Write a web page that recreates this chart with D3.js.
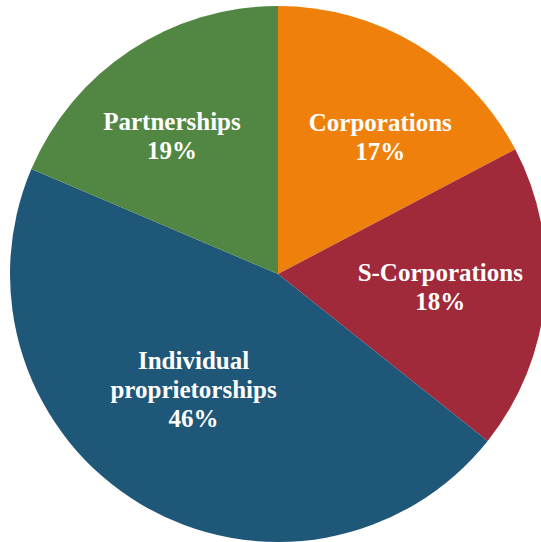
<!DOCTYPE html>
<html>
<head>
<meta charset="utf-8">
<script src="https://cdn.jsdelivr.net/npm/d3@7"></script>
<style>
    body { margin: 0; background: #fff; }
    text { font-family: 'Liberation Serif', 'DejaVu Serif', serif; font-weight: bold; fill: #fff; }
</style>
</head>
<body>
<script>
var categories = ['Corporations', 'S-Corporations', 'Individual proprietorships', 'Partnerships'];
var labelLines = [['Corporations'], ['S-Corporations'], ['Individual', 'proprietorships'], ['Partnerships']];
var shares = [17.3, 18.4, 45.7, 18.6];
var colors = ['#ef800c', '#a0293a', '#1f5779', '#528743'];

var w = 541,
    h = 542,
    cx = 278,
    cy = 274,
    radius = 268;

// small nudges from the centroid, like the spreadsheet's "best fit" labels
var labelNudge = [[17, 4], [-2, -2], [0, -26], [-15, 0]];

var svg = d3.select('body')
    .append('svg')
    .attr('width', w)
    .attr('height', h);

var g = svg.append('g')
    .attr('transform', 'translate(' + cx + ',' + cy + ')');

var pie = d3.pie()
    .sort(null)
    .value(function(d) { return d; });

var arc = d3.arc()
    .innerRadius(0)
    .outerRadius(radius);

var labelArc = d3.arc()
    .innerRadius(165)
    .outerRadius(165);

var color = d3.scaleOrdinal()
    .domain(categories)
    .range(colors);

var arcs = pie(shares);

g.selectAll('path.slice')
    .data(arcs)
    .enter()
    .append('path')
    .attr('class', 'slice')
    .attr('d', arc)
    .attr('fill', function(d, i) { return color(categories[i]); });

var fontSize = 25,
    lineH = 29;

var labels = g.selectAll('text.label')
    .data(arcs)
    .enter()
    .append('text')
    .attr('class', 'label')
    .attr('text-anchor', 'middle')
    .style('font-size', fontSize + 'px')
    .attr('transform', function(d, i) {
        var c = labelArc.centroid(d);
        return 'translate(' + (c[0] + labelNudge[i][0]) + ',' + (c[1] + labelNudge[i][1]) + ')';
    });

labels.each(function(d, i) {
    var lines = labelLines[i].concat([Math.round(d.value) + '%']);
    var t = d3.select(this);
    var top = -(lines.length - 1) * lineH / 2 + fontSize * 0.33;
    lines.forEach(function(s, k) {
        t.append('tspan')
            .attr('x', 0)
            .attr('y', top + k * lineH)
            .text(s);
    });
});
</script>
</body>
</html>
